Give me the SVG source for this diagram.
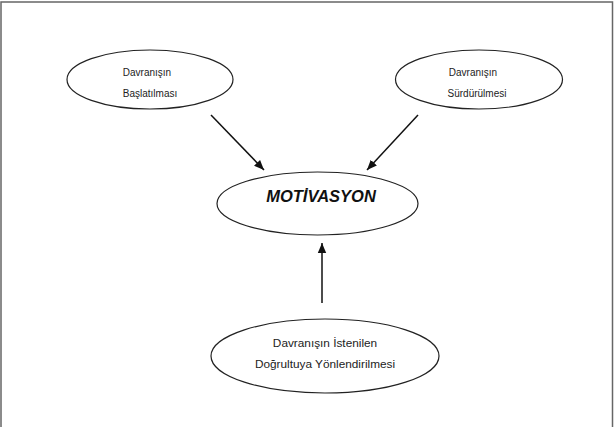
<svg xmlns="http://www.w3.org/2000/svg" width="615" height="427" viewBox="0 0 615 427">
<style>
.node ellipse{fill:#fff;stroke:#222;stroke-width:1.2}
.t{font-family:"Liberation Sans",Arial,sans-serif;font-size:10px;fill:#222;text-anchor:middle}
.tb{font-family:"Liberation Sans",Arial,sans-serif;font-size:11.8px;fill:#222;text-anchor:middle}
.m{font-family:"Liberation Sans",Arial,sans-serif;font-size:16.5px;font-weight:bold;font-style:italic;fill:#111;text-anchor:middle}
.c line{stroke:#111;stroke-width:1.5;marker-end:url(#ah)}
</style>
<defs>
<marker id="ah" viewBox="0 0 10 10" refX="10" refY="5" markerWidth="10" markerHeight="10" markerUnits="userSpaceOnUse" orient="auto">
<path d="M0,0.8 L10,5 L0,9.2 Z" fill="#111"/>
</marker>
</defs>
<rect x="1" y="2" width="611.5" height="440" fill="#fff" stroke="#666" stroke-width="1.5"/>
<g class="c" id="connectors">
<line x1="211" y1="115" x2="264" y2="170"/>
<line x1="418" y1="115" x2="367" y2="170"/>
<line x1="322" y1="303" x2="322" y2="243"/>
</g>
<g class="node" id="baslatilmasi">
<ellipse cx="150" cy="79.5" rx="83" ry="29.5"/>
<text class="t" x="147" y="76">Davranışın</text>
<text class="t" x="150" y="97">Başlatılması</text>
</g>
<g class="node" id="surdurulmesi">
<ellipse cx="479" cy="79.5" rx="83.5" ry="29.5"/>
<text class="t" x="473" y="76">Davranışın</text>
<text class="t" x="477" y="97">Sürdürülmesi</text>
</g>
<g class="node" id="motivasyon">
<ellipse cx="317.5" cy="203.5" rx="100.5" ry="31.5"/>
<text class="m" x="321" y="202">MOTİVASYON</text>
</g>
<g class="node" id="yonlendirilmesi">
<ellipse cx="325" cy="356" rx="114" ry="37"/>
<text class="tb" x="325" y="347">Davranışın İstenilen</text>
<text class="tb" x="325" y="368">Doğrultuya Yönlendirilmesi</text>
</g>
</svg>
